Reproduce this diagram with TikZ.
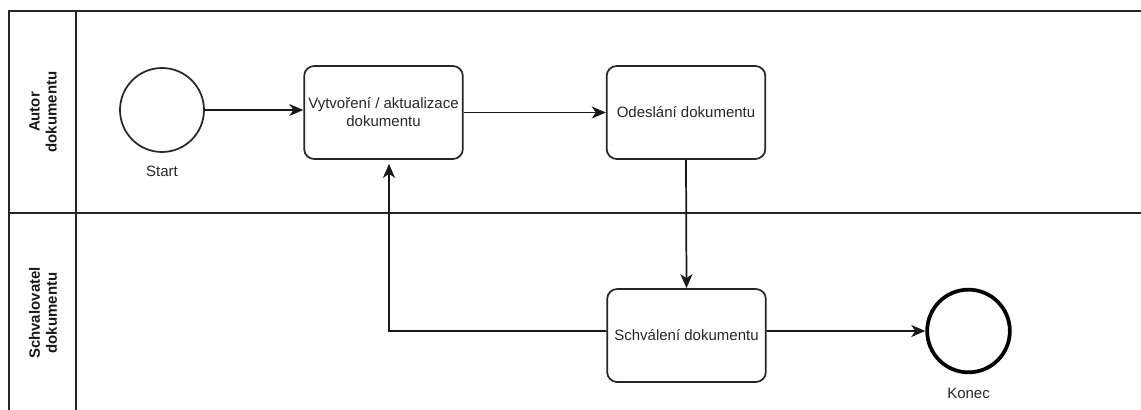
\documentclass[tikz,border=0pt]{standalone}
\usepackage{fontspec}
\setmainfont{Liberation Sans}
\usetikzlibrary{arrows.meta,calc}
\tikzset{
  lane/.style={line width=1.3pt, draw=black!85},
  task/.style={draw=black!85, line width=1.3pt, rounded corners=7.5pt,
    minimum width=119pt, minimum height=69.75pt, align=center,
    inner sep=1pt, font=\fontsize{11.25}{13.5}\selectfont, text=black!85},
  startev/.style={circle, draw=black!85, line width=1.3pt, minimum size=63pt, inner sep=0pt},
  endev/.style={circle, draw=black, line width=2.8pt, minimum size=62pt, inner sep=0pt},
  lbl/.style={font=\fontsize{11.25}{13.5}\selectfont, text=black!85},
  lanelbl/.style={font=\fontsize{11.25}{12.75}\selectfont\bfseries, align=center, rotate=90, text=black!90},
  flow/.style={line width=1.3pt, draw=black!90, -{Stealth[length=10.5pt,width=9pt,inset=3pt]}},
}
\begin{document}
\begin{tikzpicture}[x=0.75pt, y=-0.75pt]
  \useasboundingbox (0,0) rectangle (1141,410);
  % pool frame and lanes
  \begin{scope}
    \clip (0,0) rectangle (1141,410);
    \draw[lane] (1150,11) -- (9,11) -- (9,420);
    \draw[lane] (76,11) -- (76,420);
    \draw[lane] (9,213) -- (1150,213);
  \end{scope}
  \node[lanelbl] (lane1) at (43,112) {Autor\\dokumentu};
  \node[lanelbl] (lane2) at (43,313) {Schvalovatel\\dokumentu};

  % events and tasks
  \node[startev] (start) at (162,110) {};
  \node[lbl] (startl) at (162,171) {Start};
  \node[task] (b1) at (383.5,112.5) {Vytvoření / aktualizace\\dokumentu};
  \node[task] (b2) at (686,112.5) {Odeslání dokumentu};
  \node[task] (b3) at (686.5,335.5) {Schválení dokumentu};
  \node[endev] (end) at (968.5,331) {};
  \node[lbl] (endl) at (968.5,393) {Konec};

  % sequence flows
  \coordinate (s1) at ([yshift=3.4pt]b3.west);
  \coordinate (s2) at ([yshift=3.4pt]b3.east);
  \coordinate (turn) at (389,331);
  \draw[flow] (start.east) -- (start.east -| b1.west);
  \draw[flow] (b1.east) -- (b2.west);
  \draw[flow] (b2.south) -- (b3.north);
  \draw[flow] (s1) -- (turn) -- ([yshift=-3pt]turn |- b1.south);
  \draw[flow] (s2) -- (end.west);
\end{tikzpicture}
\end{document}
